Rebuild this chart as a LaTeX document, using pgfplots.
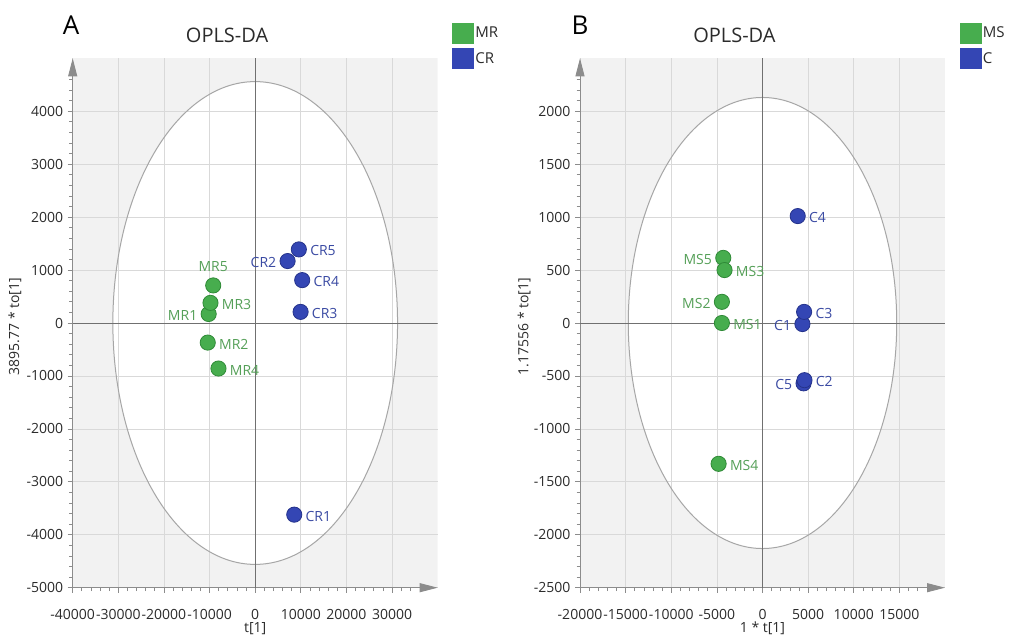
\documentclass[border=0pt]{standalone}
\usepackage{fontspec}
\setmainfont{Open Sans}
\usepackage{pgfplots}
\pgfplotsset{compat=1.18}
\usetikzlibrary{arrows.meta}

\definecolor{bggray}{HTML}{F2F2F2}
\definecolor{gridgray}{HTML}{D9D9D9}
\definecolor{axisgray}{HTML}{8C8C8C}
\definecolor{zerogray}{HTML}{707070}
\definecolor{ellgray}{HTML}{A6A6A6}
\definecolor{gfill}{HTML}{47AD4E}
\definecolor{gedge}{HTML}{2F8A37}
\definecolor{bfill}{HTML}{3446B4}
\definecolor{bedge}{HTML}{25338C}
\definecolor{gtext}{HTML}{55A058}
\definecolor{btext}{HTML}{3A4AA3}
\definecolor{ticktext}{HTML}{2B2B2B}

\pgfplotsset{
  bgaxis/.style={scale only axis, width=365pt, height=529.4pt, anchor=south west, hide axis},
  mainaxis/.style={
    scale only axis, width=365pt, height=529.4pt, anchor=south west,
    axis x line=bottom, axis y line=left,
    axis line style={draw=axisgray, line width=0.9pt, -{Triangle[length=18pt,width=9pt,fill=axisgray]}},
    grid=major, major grid style={draw=gridgray, line width=0.7pt},
    tick style={draw=axisgray, line width=0.7pt},
    tick align=outside, major tick length=5pt, minor tick length=3.5pt,
    scaled ticks=false,
    /pgf/number format/1000 sep={},
    /pgf/number format/assume math mode=true,
    tick label style={font=\fontsize{14}{16}\selectfont, text=ticktext},
    yticklabel style={inner sep=0pt, anchor=east, xshift=-4.4pt},
    xticklabel style={inner sep=0pt, anchor=north, yshift=-16pt},
    every axis x label/.style={at={(rel axis cs:0.5,-0.0767)}, anchor=center, font=\fontsize{14}{16}\selectfont, text=ticktext},
    every axis title/.style={at={(rel axis cs:0.423,1.044)}, anchor=center, font=\fontsize{20}{24}\selectfont, text=ticktext},
    legend style={draw=none, fill=none, inner sep=0pt, anchor=north west,
      font=\fontsize{15}{17}\selectfont, text=ticktext, row sep=5pt,
      nodes={inner sep=0pt}},
    legend cell align=left,
  },
  ylab/.style={every axis y label/.style={at={(rel axis cs:#1,0.4934)}, anchor=center, rotate=90, font=\fontsize{14}{16}\selectfont, text=ticktext}},
  pts/.style n args={3}{only marks, mark=*, mark size=7.6pt,
    mark options={fill=#1, draw=#2, line width=0.8pt},
    nodes near coords, point meta=explicit symbolic, forget plot,
    nodes near coords style={font=\fontsize{14}{16}\selectfont, text=#3, inner sep=0pt}},
  gpts/.style={pts={gfill}{gedge}{gtext}},
  bpts/.style={pts={bfill}{bedge}{btext}},
  labR/.style={nodes near coords style={anchor=west, xshift=11pt, yshift=-1.5pt}},
  labL/.style={nodes near coords style={anchor=east, xshift=-11pt, yshift=-1.5pt}},
  labT/.style={nodes near coords style={anchor=south, xshift=0pt, yshift=13pt}},
  sq/.style={legend image code/.code={\fill[#1] (0pt,-10pt) rectangle (21pt,10pt); \path (23pt,0pt);}},
}

\begin{document}
\begin{tikzpicture}
\useasboundingbox (0,0) rectangle (1009pt,638pt);

% ---------- Panel A ----------
\begin{axis}[bgaxis, at={(72.7pt,50.3pt)}, xmin=-40000, xmax=40000, ymin=-5000, ymax=5000]
\fill[bggray] (rel axis cs:0,0) rectangle (rel axis cs:1,1);
\fill[white] (axis cs:0,0) ellipse [x radius=31200, y radius=4560];
\end{axis}
\begin{axis}[mainaxis, at={(72.7pt,50.3pt)},
  xmin=-40000, xmax=40000, ymin=-5000, ymax=5000,
  xtick={-40000,-30000,...,30000}, ytick={-5000,-4000,...,4000},
  minor xtick={-38000,-36000,...,34000}, minor ytick={-4800,-4600,...,4600},
  xlabel={t[1]}, ylabel={3895.77 * to[1]}, ylab=-0.158,
  title={OPLS-DA},
  legend style={at={(rel axis cs:1.0384,1.0673)}}]
\draw[ellgray, line width=1pt] (axis cs:0,0) ellipse [x radius=31200, y radius=4560];
\draw[zerogray, line width=0.9pt] (axis cs:0,-5000) -- (axis cs:0,5000);
\draw[zerogray, line width=0.9pt] (axis cs:-40000,0) -- (axis cs:40000,0);
\addplot[gpts, labT] coordinates {(-9200,710) [MR5]};
\addplot[gpts, labL] coordinates {(-10200,170) [MR1]};
\addplot[gpts, labR] coordinates {(-9800,380) [MR3] (-10400,-370) [MR2] (-8050,-860) [MR4]};
\addplot[bpts, labL] coordinates {(7100,1170) [CR2]};
\addplot[bpts, labR] coordinates {(8560,-3620) [CR1] (9950,210) [CR3] (10300,810) [CR4] (9570,1390) [CR5]};
\addlegendimage{sq=gfill}
\addlegendentry{MR}
\addlegendimage{sq=bfill}
\addlegendentry{CR}
\end{axis}

% ---------- Panel B ----------
\begin{axis}[bgaxis, at={(580pt,50.3pt)}, xmin=-20000, xmax=20000, ymin=-2500, ymax=2500]
\fill[bggray] (rel axis cs:0,0) rectangle (rel axis cs:1,1);
\fill[white] (axis cs:0,0) ellipse [x radius=14710, y radius=2130];
\end{axis}
\begin{axis}[mainaxis, at={(580pt,50.3pt)},
  xmin=-20000, xmax=20000, ymin=-2500, ymax=2500,
  xtick={-20000,-15000,...,15000}, ytick={-2500,-2000,...,2000},
  minor xtick={-19000,-18000,...,17000}, minor ytick={-2400,-2300,...,2300},
  xlabel={1 * t[1]}, ylabel={1.17556 * to[1]}, ylab=-0.153,
  title={OPLS-DA},
  legend style={at={(rel axis cs:1.0392,1.0673)}}]
\draw[ellgray, line width=1pt] (axis cs:0,0) ellipse [x radius=14710, y radius=2130];
\draw[zerogray, line width=0.9pt] (axis cs:0,-2500) -- (axis cs:0,2500);
\draw[zerogray, line width=0.9pt] (axis cs:-20000,0) -- (axis cs:20000,0);
\addplot[gpts, labL] coordinates {(-4450,200) [MS2] (-4300,615) [MS5]};
\addplot[gpts, labR] coordinates {(-4450,0) [MS1] (-4160,500) [MS3] (-4810,-1330) [MS4]};
\addplot[bpts, labL] coordinates {(4375,-10) [C1] (4500,-570) [C5]};
\addplot[bpts, labR] coordinates {(4560,105) [C3] (3860,1010) [C4] (4600,-540) [C2]};
\addlegendimage{sq=gfill}
\addlegendentry{MS}
\addlegendimage{sq=bfill}
\addlegendentry{C}
\end{axis}

\node[font=\fontsize{26}{30}\selectfont, inner sep=0pt] at (71pt,613pt) {A};
\node[font=\fontsize{26}{30}\selectfont, inner sep=0pt] at (580pt,613pt) {B};
\end{tikzpicture}
\end{document}
